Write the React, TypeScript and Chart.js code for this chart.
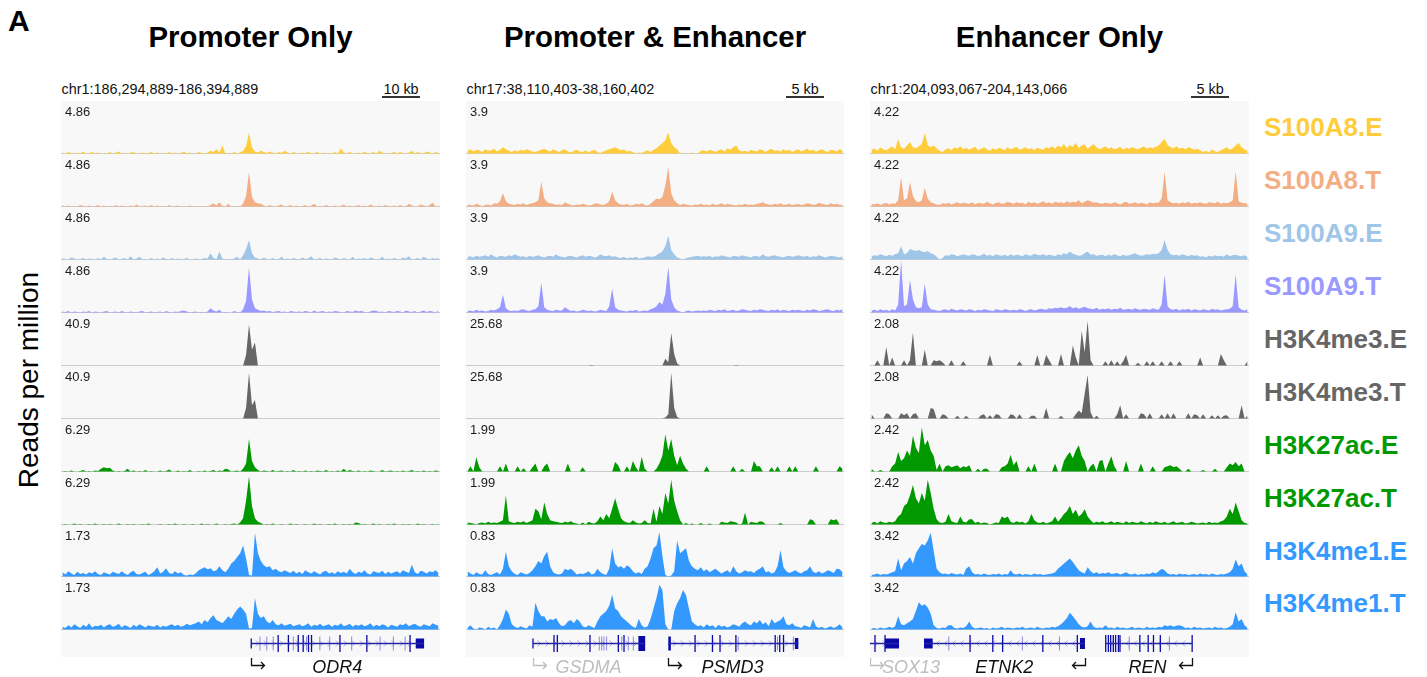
import React, { useEffect, useRef } from 'react';
import { Chart, registerables } from 'chart.js';
Chart.register(...registerables);

const SANS = '"Liberation Sans", Arial, Helvetica, sans-serif';
const BINS = 128;

// ---------- track meta ----------
const trackNames = ['S100A8.E', 'S100A8.T', 'S100A9.E', 'S100A9.T', 'H3K4me3.E', 'H3K4me3.T', 'H3K27ac.E', 'H3K27ac.T', 'H3K4me1.E', 'H3K4me1.T'];
const trackColors = ['#ffcd3c', '#f4ae84', '#9fc5e8', '#9999ff', '#666666', '#666666', '#009900', '#009900', '#3399ff', '#3399ff'];

const panelTitles = ['Promoter Only', 'Promoter & Enhancer', 'Enhancer Only'];
const panelLoci = ['chr1:186,294,889-186,394,889', 'chr17:38,110,403-38,160,402', 'chr1:204,093,067-204,143,066'];
const panelSpanKb = [100, 50, 50];
const scaleBarKb = [10, 5, 5];
const scaleBarLabels = ['10 kb', '5 kb', '5 kb'];

const poRanges = ['4.86', '4.86', '4.86', '4.86', '40.9', '40.9', '6.29', '6.29', '1.73', '1.73'];
const peRanges = ['3.9', '3.9', '3.9', '3.9', '25.68', '25.68', '1.99', '1.99', '0.83', '0.83'];
const eoRanges = ['4.22', '4.22', '4.22', '4.22', '2.08', '2.08', '2.42', '2.42', '3.42', '3.42'];

// ---------- Promoter Only (values in % of the track's data range) ----------
const po_S100A8E = [
  2,0,3,1,0,2,0,4,0,1,3,0,2,0,1,0,
  3,0,2,4,0,1,0,2,3,0,0,2,0,1,3,0,
  2,0,1,0,3,0,2,0,1,4,0,2,0,0,3,1,
  0,2,5,3,8,2,15,0,1,0,3,0,2,5,14,40,
  12,4,2,5,3,1,4,2,0,3,1,5,2,0,3,1,
  0,2,0,4,0,1,3,0,2,0,1,0,3,0,10,2,
  0,3,1,0,2,0,4,0,1,3,0,5,2,0,1,0,
  4,0,3,1,0,2,5,0,3,1,0,4,2,0,3,1];
const po_S100A8T = [
  3,0,2,0,1,0,3,1,0,2,0,1,3,0,2,0,
  1,0,3,0,2,1,0,2,0,4,0,1,2,0,3,0,
  2,0,1,0,3,0,1,2,0,1,0,2,0,1,0,0,
  1,0,3,6,2,8,1,0,5,0,0,1,0,5,20,66,
  18,8,6,5,2,0,3,1,0,2,4,0,1,3,0,2,
  0,1,3,0,2,5,0,1,0,3,1,0,2,0,1,4,
  0,2,0,1,3,0,2,0,4,1,0,2,0,3,1,0,
  2,0,3,1,0,5,2,0,1,4,2,0,3,7,0,2];
const po_S100A9E = [
  3,1,0,4,2,0,1,3,0,2,1,0,3,0,5,1,
  0,2,4,0,1,3,0,6,0,2,5,0,1,0,3,0,
  2,0,4,1,0,3,0,2,0,1,3,0,0,2,0,1,
  3,2,12,3,1,15,2,0,1,0,2,5,0,8,20,37,
  12,4,2,0,4,1,0,3,0,1,5,0,2,0,3,1,
  0,4,1,2,6,0,1,3,0,2,1,0,4,2,0,3,
  1,0,5,0,2,1,3,0,4,2,0,1,5,0,2,0,
  3,1,0,4,2,6,0,1,3,0,5,2,0,3,1,4];
const po_S100A9T = [
  2,1,3,0,2,1,0,2,1,3,0,2,1,0,2,3,
  0,1,2,0,3,1,0,2,1,0,2,3,0,1,2,0,
  1,2,0,3,1,0,2,1,3,4,2,0,1,2,0,1,
  0,2,8,4,2,5,0,1,0,0,3,1,0,6,22,86,
  25,8,5,3,4,2,3,1,2,3,1,2,0,3,2,1,
  2,1,3,2,0,4,1,2,3,0,2,1,3,2,1,0,
  3,2,1,4,2,3,1,0,2,4,3,1,2,0,3,2,
  1,3,2,0,4,2,1,3,0,2,4,1,3,2,0,4];
const po_H3K4me3E = [
  0,0,0,0,0,0,0,0,0,0,0,0,0,0,0,0,
  0,0,0,0,0,0,0,0,0,0,0,0,0,0,0,0,
  0,0,0,0,0,0,0,0,0,0,0,0,0,0,0,0,
  0,0,0,0,0,0,0,0,0,0,0,0,0,0,20,78,
  30,44,0,0,0,0,0,0,0,0,0,0,0,0,0,0,
  0,0,0,0,0,0,0,0,0,0,0,0,0,0,0,0,
  0,0,0,0,0,0,0,0,0,0,0,0,0,0,0,0,
  0,0,0,0,0,0,0,0,0,0,0,0,0,0,0,0];
const po_H3K4me3T = [
  0,0,0,0,0,0,0,0,0,0,0,0,0,0,0,0,
  0,0,0,0,0,0,0,0,0,0,0,0,0,0,0,0,
  0,0,0,0,0,0,0,0,0,0,0,0,0,0,0,0,
  0,0,0,0,0,0,0,0,0,0,0,0,0,0,20,87,
  25,35,0,0,0,0,0,0,0,0,0,0,0,0,0,0,
  0,0,0,0,0,0,0,0,0,0,0,0,0,0,0,0,
  0,0,0,0,0,0,0,0,0,0,0,0,0,0,0,0,
  0,0,0,0,0,0,0,0,0,0,0,0,0,0,0,0];
const po_H3K27acE = [
  0,1,0,2,0,0,1,3,0,1,0,2,1,5,8,6,
  7,2,0,1,0,1,5,0,2,0,1,0,3,0,1,0,
  0,2,0,1,4,0,0,2,0,1,0,3,0,0,1,0,
  2,0,1,3,0,2,1,5,4,0,1,2,0,5,15,62,
  20,8,3,0,2,1,0,3,0,1,2,0,1,0,3,0,
  1,0,2,0,1,0,2,1,0,3,0,1,0,2,0,5,
  0,3,1,0,2,0,1,0,2,1,0,0,3,0,1,2,
  0,1,0,2,0,1,3,0,1,0,2,0,1,0,2,1];
const po_H3K27acT = [
  0,1,0,0,2,0,1,0,0,1,0,2,0,0,1,0,
  1,0,0,2,0,0,1,0,1,0,0,1,0,2,0,0,
  0,1,0,0,1,0,2,0,0,1,0,0,1,0,0,2,
  0,1,0,0,2,0,0,1,0,1,2,0,4,12,45,92,
  35,12,5,3,0,1,0,2,0,0,1,0,0,2,0,1,
  0,0,1,0,0,2,0,1,0,0,1,0,2,0,0,1,
  0,1,0,4,3,0,1,0,0,2,0,1,0,0,1,0,
  2,0,0,1,0,1,0,0,2,0,1,0,0,1,0,1];
const po_H3K4me1E = [
  8,4,10,6,3,9,5,7,4,8,6,10,5,3,8,6,
  4,9,7,5,10,6,3,8,11,5,4,7,9,3,6,10,
  18,6,9,16,7,5,10,6,8,3,2,4,3,6,12,15,
  18,14,16,10,12,20,12,8,15,25,30,38,45,60,35,3,
  2,85,45,30,22,18,20,12,15,10,8,12,9,7,11,6,
  9,5,12,8,6,10,7,4,9,11,6,8,5,10,7,9,
  6,15,8,5,9,7,12,6,4,10,8,7,11,5,9,6,
  8,10,6,12,9,7,23,8,5,11,9,6,10,8,12,7];
const po_H3K4me1T = [
  5,3,8,4,10,6,3,9,5,12,4,7,6,9,4,8,
  10,5,7,11,4,8,6,3,9,5,10,7,4,8,6,5,
  9,4,7,5,8,10,6,9,5,7,11,8,10,12,15,10,
  18,14,22,27,18,15,12,18,25,20,30,38,44,38,30,2,
  3,60,30,22,25,15,12,18,10,8,12,7,9,11,6,8,
  10,6,8,12,5,9,7,11,6,8,10,5,9,7,12,6,
  8,11,5,9,7,10,6,8,12,5,9,6,10,8,4,9,
  7,5,10,8,12,6,9,11,7,5,10,8,6,12,9,7];

// ---------- Promoter & Enhancer ----------
const pe_S100A8E = [
  5,8,4,7,6,3,8,5,6,9,4,7,12,8,5,3,
  6,4,7,5,8,6,4,3,5,7,9,6,4,8,5,3,
  6,8,4,2,5,7,4,3,6,2,5,7,3,1,4,6,
  8,10,12,9,6,8,4,5,3,0,2,1,4,6,3,7,
  10,15,20,25,40,20,12,8,0,1,0,0,2,0,0,5,
  6,4,7,5,3,6,8,4,10,7,12,15,6,4,5,3,
  7,5,4,8,6,3,7,9,5,6,4,8,5,7,3,6,
  8,4,6,9,5,7,4,6,8,5,3,7,6,4,8,6];
const pe_S100A8T = [
  4,3,2,5,3,1,3,4,2,6,5,10,25,10,5,4,
  3,5,4,6,3,5,6,8,12,47,15,8,6,5,3,4,
  3,8,5,3,2,4,3,5,4,2,3,5,6,4,3,5,
  10,28,12,6,4,3,5,2,3,5,4,6,3,2,5,10,
  15,14,18,40,75,25,12,6,3,5,4,3,2,4,3,5,
  3,4,2,5,3,4,6,3,5,4,3,2,4,3,5,3,
  4,3,5,6,8,5,4,3,5,4,6,3,4,5,3,4,
  5,3,4,6,5,3,4,7,5,4,3,6,4,5,3,4];
const pe_S100A9E = [
  5,6,4,7,5,6,8,5,10,6,4,7,6,5,8,6,
  10,7,5,6,4,7,5,6,8,5,4,6,7,5,10,6,
  5,4,6,7,5,4,6,8,5,7,6,4,5,10,7,6,
  8,5,6,4,3,5,2,4,3,5,2,3,4,6,5,5,
  8,12,15,25,45,18,10,4,2,0,3,4,5,6,7,5,
  6,5,7,4,6,5,8,6,5,4,7,6,5,8,6,5,
  4,7,6,5,10,6,5,7,8,6,5,4,6,7,5,6,
  8,6,5,7,4,6,5,8,6,4,5,7,6,5,4,6];
const pe_S100A9T = [
  3,4,2,5,3,4,2,3,5,4,6,10,34,8,4,3,
  4,3,5,6,4,3,5,6,12,57,10,5,4,3,5,4,
  4,10,6,3,4,2,3,5,4,3,4,2,3,5,4,3,
  12,45,10,5,4,3,2,4,3,5,2,3,4,3,6,8,
  12,20,15,35,87,25,10,4,2,0,3,4,2,3,4,3,
  4,3,5,4,3,5,4,6,3,4,5,3,4,6,5,4,
  3,5,4,6,5,4,3,5,4,6,3,5,4,3,5,4,
  5,4,3,5,4,6,5,3,4,5,6,4,3,5,4,6];
const pe_H3K4me3E = [
  0,0,0,0,0,0,0,0,0,0,0,0,0,0,0,0,
  0,0,0,0,0,0,0,0,0,0,0,0,0,0,0,0,
  0,0,0,0,0,0,0,0,0,0,1,0,0,0,0,0,
  0,0,0,0,0,0,0,0,0,0,0,0,0,0,0,0,
  0,0,0,13,6,62,22,4,0,0,0,0,0,0,0,0,
  0,0,0,0,0,0,0,0,0,0,0,1,0,0,0,0,
  0,0,0,0,0,0,0,0,0,0,0,0,0,0,0,0,
  0,0,0,0,0,0,0,0,0,0,0,0,0,0,0,0];
const pe_H3K4me3T = [
  0,0,0,0,0,0,0,0,0,0,0,0,0,0,0,0,
  0,0,0,0,0,0,0,0,0,0,0,0,0,0,0,0,
  0,0,0,0,0,0,0,0,0,0,0,0,0,0,0,0,
  0,0,0,0,0,0,0,0,0,0,0,0,0,0,0,0,
  0,0,0,2,8,87,20,3,0,0,0,0,0,0,0,0,
  0,0,0,0,0,0,0,0,0,0,0,0,0,0,0,0,
  0,0,0,0,0,0,0,0,0,0,0,0,0,0,0,0,
  0,0,0,0,0,0,0,0,0,0,0,0,0,0,0,0];
const pe_H3K27acE = [
  0,10,0,27,8,0,0,0,0,0,0,10,0,15,0,0,
  0,10,0,6,0,0,8,15,0,0,10,15,0,0,0,0,
  0,0,15,0,0,0,0,8,0,0,0,0,0,0,0,0,
  0,0,18,12,0,0,10,0,20,8,0,28,5,0,0,0,
  5,15,30,71,40,62,30,12,30,15,5,0,0,0,0,0,
  0,10,0,0,0,0,0,0,0,0,10,0,0,5,0,0,
  0,20,10,10,0,0,0,8,0,10,0,0,0,10,0,10,
  0,0,0,0,0,0,10,0,0,0,0,0,0,0,10,5];
const pe_H3K27acT = [
  4,3,2,0,3,4,2,5,3,4,3,5,8,55,6,4,
  3,5,4,6,3,5,8,30,25,10,42,20,8,6,5,4,
  3,5,4,6,3,2,0,4,0,5,3,2,6,15,8,20,
  12,30,50,30,12,6,4,3,8,4,2,3,8,3,2,30,
  5,35,20,60,40,85,45,25,8,0,3,0,2,0,0,3,
  0,0,2,0,0,0,5,4,3,6,5,4,0,2,23,0,
  5,4,3,6,5,0,0,0,0,0,3,0,0,0,0,0,
  0,0,0,0,10,8,0,0,0,0,0,10,8,10,0,0];
const pe_H3K4me1E = [
  10,6,3,8,5,4,12,5,3,6,8,4,15,48,20,10,
  5,3,8,6,4,7,12,20,30,25,40,48,20,8,5,4,
  6,15,12,15,10,4,6,5,7,10,4,6,15,8,5,3,
  15,55,25,18,20,15,22,18,10,6,8,5,15,20,35,55,
  60,86,40,3,0,2,10,70,45,50,55,30,20,15,12,18,
  10,14,8,12,15,10,6,9,12,7,20,10,6,8,12,9,
  10,7,12,15,20,8,10,6,8,20,51,18,10,7,9,12,
  8,6,10,12,20,9,7,10,6,8,12,10,7,15,14,8];
const pe_H3K4me1T = [
  3,8,2,0,4,3,0,5,2,4,0,8,20,38,30,10,
  5,3,6,4,2,8,5,51,35,25,25,15,20,18,22,12,
  6,8,15,18,12,20,15,6,4,8,5,3,15,25,30,35,
  45,66,40,35,25,20,15,10,5,3,20,8,4,6,20,40,
  60,85,75,10,0,0,35,50,60,75,65,40,15,10,6,8,
  4,10,6,8,3,9,5,7,4,6,10,8,5,12,15,10,
  8,15,12,18,10,14,6,20,12,15,18,25,10,8,12,6,
  5,3,8,6,4,20,6,3,5,2,4,6,3,5,10,4];

// ---------- Enhancer Only ----------
const eo_S100A8E = [
  6,10,5,12,8,6,10,14,8,27,12,9,15,22,12,10,
  14,18,39,16,12,15,10,5,3,8,10,6,12,9,14,8,
  11,7,10,13,6,9,12,8,5,10,7,11,9,6,12,8,
  10,13,7,9,12,8,10,6,11,9,7,12,10,14,9,15,
  12,18,10,16,13,20,11,15,17,9,14,18,12,8,11,14,
  9,12,8,10,13,7,11,9,12,10,8,11,14,9,12,10,
  13,15,22,28,16,12,10,14,9,11,8,12,10,7,9,6,
  3,5,2,8,4,3,6,9,12,7,10,15,20,12,8,5];
const eo_S100A8T = [
  5,4,6,3,5,7,4,6,5,12,56,12,15,46,20,10,
  8,12,35,15,8,6,4,3,6,5,7,4,6,8,5,7,
  6,5,8,4,7,6,5,9,6,4,7,8,5,6,9,7,
  5,8,6,7,4,9,6,8,5,7,10,6,8,5,9,7,
  8,6,10,7,9,8,12,6,9,12,10,7,8,6,5,7,
  6,5,8,6,4,7,9,5,6,8,5,7,6,4,8,6,
  7,7,15,66,12,8,6,7,5,8,6,9,5,7,6,8,
  6,5,8,7,6,9,5,7,6,8,12,67,10,7,6,5];
const eo_S100A9E = [
  6,8,7,10,8,6,9,7,10,12,25,10,12,20,18,16,
  18,15,14,16,12,10,5,0,3,8,7,10,9,6,8,10,
  8,7,10,9,6,8,11,7,9,6,10,8,7,9,6,10,
  7,9,8,6,10,8,7,11,9,8,10,7,9,8,6,10,
  8,12,10,15,11,9,7,8,12,15,9,10,7,8,9,6,
  9,7,10,8,6,9,7,8,10,12,9,7,8,10,9,11,
  10,12,18,37,18,10,8,9,7,10,8,6,9,7,8,5,
  6,4,7,5,8,6,7,5,10,6,8,9,7,6,8,5];
const eo_S100A9T = [
  4,5,3,6,4,5,3,6,4,15,100,12,15,62,25,10,
  8,10,55,15,6,5,4,3,5,6,4,7,5,4,6,5,
  4,6,5,3,5,4,6,5,4,3,6,5,4,6,5,4,
  5,4,6,5,3,5,6,4,5,7,6,5,8,7,9,8,
  10,8,9,12,8,10,7,9,11,8,7,6,9,5,7,6,
  8,5,7,6,9,5,6,7,5,8,6,5,7,6,5,8,
  6,5,15,72,12,6,5,7,4,6,5,7,4,6,5,4,
  6,5,4,7,5,6,4,5,6,7,12,73,10,5,4,6];
const eo_H3K4me3E = [
  0,0,10,0,0,35,0,15,0,0,0,10,0,10,63,0,
  0,0,30,0,0,10,8,10,6,0,0,10,0,0,0,8,
  0,0,0,0,0,0,0,0,20,0,0,0,0,0,0,0,
  0,0,8,0,0,0,0,0,20,0,0,20,10,0,0,0,
  22,0,0,0,38,15,0,66,25,85,10,0,0,0,0,8,
  0,10,0,8,0,8,20,0,0,0,5,0,0,8,0,8,
  0,0,8,0,0,8,0,0,8,0,0,0,0,0,0,15,
  0,0,0,0,0,0,22,10,0,0,0,0,0,0,0,8];
const eo_H3K4me3T = [
  8,0,0,0,0,10,8,0,0,0,10,6,10,0,8,10,
  0,0,0,0,20,18,0,0,8,6,0,0,0,5,0,0,
  5,0,0,0,0,6,8,0,6,0,8,7,0,0,0,8,
  6,0,8,0,0,0,5,5,0,0,0,20,0,0,0,0,
  5,0,0,0,0,8,15,10,47,83,12,0,5,0,0,0,
  0,0,0,8,25,0,8,0,0,0,0,10,8,0,10,0,
  0,0,8,0,10,0,10,0,0,0,0,10,0,8,6,0,
  8,0,0,6,0,6,0,5,6,0,0,0,0,25,0,5];
const eo_H3K27acE = [
  5,0,0,3,0,0,0,10,15,37,20,25,40,30,68,45,
  35,84,50,60,40,30,3,15,0,10,12,8,10,12,6,10,
  8,12,0,0,5,0,5,5,0,0,0,0,8,10,15,32,
  12,20,0,0,0,10,0,15,0,0,0,0,0,0,15,0,
  0,20,30,37,25,40,50,30,20,0,10,15,0,20,22,0,
  15,29,10,0,0,0,20,0,0,0,0,15,0,0,0,10,
  0,0,0,8,10,12,8,10,5,0,0,5,0,0,0,0,
  3,0,0,0,5,0,0,0,8,15,12,18,10,15,0,0];
const eo_H3K27acT = [
  3,5,2,6,4,3,5,4,6,15,20,35,40,55,75,50,
  40,60,45,85,60,30,10,4,3,5,20,6,4,3,15,5,
  4,10,10,3,5,2,4,3,0,2,4,3,15,12,15,5,
  3,6,4,5,2,6,20,8,4,3,5,2,4,6,15,5,
  12,20,25,35,20,28,15,20,29,15,8,3,5,4,6,3,
  4,6,3,5,4,2,6,3,5,4,3,6,4,2,5,3,
  6,4,3,5,2,4,6,3,4,5,2,3,5,4,2,3,
  4,2,5,3,4,3,6,8,15,30,20,42,25,8,3,2];
const eo_H3K4me1E = [
  3,4,6,3,5,4,6,8,10,35,12,25,30,38,25,45,
  55,63,60,70,85,50,15,8,5,6,4,7,5,4,6,3,
  15,20,8,4,5,3,6,4,3,5,4,6,3,5,4,12,
  5,4,6,3,5,4,3,6,4,5,3,4,5,6,8,15,
  20,25,30,35,28,20,12,8,6,18,10,6,8,5,7,6,
  8,5,6,7,4,6,8,5,4,6,3,5,4,6,5,8,
  6,10,15,12,6,4,5,3,6,4,5,3,4,5,3,6,
  4,5,3,6,4,3,5,4,6,8,15,33,20,25,10,4];
const eo_H3K4me1T = [
  2,3,1,4,2,3,5,3,6,25,10,8,12,15,20,35,
  52,45,48,42,30,8,3,2,4,3,8,8,3,2,4,3,
  6,15,5,2,3,4,2,3,1,4,2,3,5,2,4,3,
  2,4,3,5,2,3,4,2,5,3,2,4,3,5,4,6,
  10,15,22,32,25,18,10,5,4,6,15,5,3,4,3,8,
  3,4,2,5,3,4,2,3,5,2,4,3,2,5,3,4,
  3,5,4,8,6,8,5,7,8,6,3,4,2,5,3,4,
  2,3,4,2,5,3,4,2,3,5,10,33,15,20,8,3];

// ---------- gene models (kb from window start) ----------
const odr4Major = [57.3, 60.0, 62.6, 63.9, 65.3, 66.1, 73.6, 80.7, 92.1];
const odr4Minor = [52.5, 54.3, 56.0, 61.3, 64.8, 68.3, 70.9, 76.7, 84.2, 87.7, 90.8];
const odr4Blocks = [[93.6, 95.8, 10]];
const gsdmaMajor = [11.64, 12.08, 16.4, 20.15, 20.9];
const gsdmaMinor = [17.63, 17.95, 18.25, 18.6, 20.6, 21.47, 22.13];
const gsdmaBlocks = [[22.8, 23.7, 15]];
const psmd3Major = [30.3, 32.6, 33.6, 35.7, 40.9, 41.5, 42.0];
const psmd3Minor = [36.0, 41.2, 43.3];
const psmd3Blocks = [[26.76, 27.1, 14], [43.5, 43.96, 11]];
const sox13Major = [0.66, 1.98];
const sox13Blocks = [[1.98, 3.83, 10]];
const etnk2Major = [13.2, 16.2, 17.5, 22.8, 27.35];
const etnk2Minor = [10.4, 20.1, 25.0];
const etnk2Blocks = [[7.12, 8.27, 10], [27.7, 28.36, 11]];
const renMajor = [31.1, 31.45, 31.75, 32.1, 32.4, 32.77, 32.98, 35.6, 36.7, 37.4, 38.3, 42.5];
const renMinor = [34.2, 39.5];

type Gene = { name: string; start: number; end: number; strand: number; muted: boolean; labelAt: number; major: number[]; minor: number[]; edges: number[]; blocks: number[][] };

const poGenes: Gene[] = [
  { name: 'ODR4', start: 50.2, end: 95.8, strand: 1, muted: false, labelAt: 72.9, major: odr4Major, minor: odr4Minor, edges: [50.2], blocks: odr4Blocks },
];
const peGenes: Gene[] = [
  { name: 'GSDMA', start: 8.86, end: 23.7, strand: 1, muted: true, labelAt: 16.2, major: gsdmaMajor, minor: gsdmaMinor, edges: [8.86], blocks: gsdmaBlocks },
  { name: 'PSMD3', start: 26.76, end: 43.96, strand: 1, muted: false, labelAt: 35.25, major: psmd3Major, minor: psmd3Minor, edges: [], blocks: psmd3Blocks },
];
const eoGenes: Gene[] = [
  { name: 'SOX13', start: 0, end: 3.83, strand: 1, muted: true, labelAt: 5.4, major: sox13Major, minor: [], edges: [], blocks: sox13Blocks },
  { name: 'ETNK2', start: 7.12, end: 28.36, strand: -1, muted: false, labelAt: 17.7, major: etnk2Major, minor: etnk2Minor, edges: [], blocks: etnk2Blocks },
  { name: 'REN', start: 31.1, end: 42.5, strand: -1, muted: false, labelAt: 36.6, major: renMajor, minor: renMinor, edges: [], blocks: [] },
];

const poTracks = [po_S100A8E, po_S100A8T, po_S100A9E, po_S100A9T, po_H3K4me3E, po_H3K4me3T, po_H3K27acE, po_H3K27acT, po_H3K4me1E, po_H3K4me1T];
const peTracks = [pe_S100A8E, pe_S100A8T, pe_S100A9E, pe_S100A9T, pe_H3K4me3E, pe_H3K4me3T, pe_H3K27acE, pe_H3K27acT, pe_H3K4me1E, pe_H3K4me1T];
const eoTracks = [eo_S100A8E, eo_S100A8T, eo_S100A9E, eo_S100A9T, eo_H3K4me3E, eo_H3K4me3T, eo_H3K27acE, eo_H3K27acT, eo_H3K4me1E, eo_H3K4me1T];

const columns = [
  { left: 61, width: 379, tracks: poTracks, ranges: poRanges, genes: poGenes },
  { left: 466, width: 378, tracks: peTracks, ranges: peRanges, genes: peGenes },
  { left: 870, width: 379, tracks: eoTracks, ranges: eoRanges, genes: eoGenes },
];

const TRACK_TOPS = Array.from({ length: 11 }, (_, k) => Math.round(101.3 + 52.9 * k));
const PANEL_BG = '#f8f8f8';

function TrackChart({ left, top, width, height, values, color, range }: any) {
  const ref = useRef<HTMLCanvasElement>(null);
  useEffect(() => {
    const decor = {
      id: 'trackDecor',
      beforeDraw(chart: any) {
        const { ctx, chartArea: a } = chart;
        ctx.save();
        ctx.fillStyle = PANEL_BG;
        ctx.fillRect(a.left, a.top, a.right - a.left, a.bottom - a.top);
        ctx.strokeStyle = '#cccccc';
        ctx.lineWidth = 1;
        ctx.beginPath();
        ctx.moveTo(a.left, a.bottom - 0.5);
        ctx.lineTo(a.right, a.bottom - 0.5);
        ctx.stroke();
        ctx.restore();
      },
      afterDraw(chart: any) {
        const { ctx, chartArea: a } = chart;
        ctx.save();
        ctx.fillStyle = '#1a1a1a';
        ctx.font = `13px ${SANS}`;
        ctx.textBaseline = 'alphabetic';
        ctx.fillText(range, a.left + 4, a.top + 14.5);
        ctx.restore();
      },
    };
    const chart = new Chart(ref.current as HTMLCanvasElement, {
      type: 'line',
      data: {
        datasets: [{
          data: values.map((v: number, i: number) => ({ x: i + 0.5, y: v })),
          borderColor: 'rgba(0,0,0,0)',
          backgroundColor: color,
          borderWidth: 0,
          pointRadius: 0,
          fill: 'origin',
          tension: 0,
        }],
      },
      options: {
        animation: false,
        responsive: false,
        maintainAspectRatio: false,
        events: [],
        layout: { padding: 0, autoPadding: false },
        plugins: { legend: { display: false }, tooltip: { enabled: false } },
        scales: {
          x: { type: 'linear', min: 0, max: BINS, display: false },
          y: { min: -1, max: 100, display: false },
        },
      },
      plugins: [decor],
    } as any);
    return () => chart.destroy();
  }, []);
  return <canvas ref={ref} width={width} height={height} style={{ position: 'absolute', left, top, width, height }} />;
}

const GENE_LINE = '#2424a8';
const GENE_DARK = '#0a0aa8';
const GENE_LIGHT = '#8a8ad8';

function GeneChart({ left, top, width, genes, spanKb }: any) {
  const ref = useRef<HTMLCanvasElement>(null);
  const height = 47;
  useEffect(() => {
    const datasets: any[] = [];
    genes.forEach((g: Gene) => {
      datasets.push({ data: [{ x: g.start, y: 0 }, { x: g.end, y: 0 }], showLine: true, borderColor: GENE_LINE, borderWidth: 1.5, pointRadius: 0 });
      g.blocks.forEach((b) => {
        datasets.push({ data: [{ x: b[0], y: 0 }, { x: b[1], y: 0 }], showLine: true, borderColor: GENE_DARK, borderWidth: b[2], borderCapStyle: 'butt', pointRadius: 0 });
      });
      datasets.push({ data: g.minor.map((x) => ({ x, y: 0 })), pointStyle: 'line', pointRotation: 90, pointRadius: 7, pointBorderColor: GENE_LIGHT, pointBorderWidth: 1 });
      datasets.push({ data: g.major.map((x) => ({ x, y: 0 })), pointStyle: 'line', pointRotation: 90, pointRadius: 8.5, pointBorderColor: GENE_DARK, pointBorderWidth: 1.3 });
      datasets.push({ data: g.edges.map((x) => ({ x, y: 0 })), pointStyle: 'line', pointRotation: 90, pointRadius: 5, pointBorderColor: GENE_DARK, pointBorderWidth: 1.3 });
    });
    const decor = {
      id: 'geneDecor',
      beforeDatasetsDraw(chart: any) {
        const { ctx, chartArea: a, scales } = chart;
        ctx.save();
        ctx.fillStyle = PANEL_BG;
        ctx.fillRect(a.left, a.top, a.right - a.left, a.bottom - a.top);
        const yc = scales.y.getPixelForValue(0);
        ctx.strokeStyle = 'rgba(110,110,225,0.55)';
        ctx.lineWidth = 1;
        genes.forEach((g: Gene) => {
          const x0 = scales.x.getPixelForValue(g.start);
          const x1 = scales.x.getPixelForValue(g.end);
          for (let x = x0 + 6; x < x1 - 4; x += 8) {
            ctx.beginPath();
            ctx.moveTo(x - 1.5 * g.strand, yc - 3);
            ctx.lineTo(x + 1.5 * g.strand, yc);
            ctx.lineTo(x - 1.5 * g.strand, yc + 3);
            ctx.stroke();
          }
        });
        ctx.restore();
      },
      afterDraw(chart: any) {
        const { ctx, chartArea: a, scales } = chart;
        ctx.save();
        genes.forEach((g: Gene) => {
          const color = g.muted ? '#bdbdbd' : '#111111';
          ctx.fillStyle = color;
          ctx.strokeStyle = color;
          ctx.font = `italic 18px ${SANS}`;
          ctx.textAlign = 'center';
          ctx.textBaseline = 'alphabetic';
          ctx.fillText(g.name, scales.x.getPixelForValue(g.labelAt), a.bottom + 16);
          const ax = Math.round(scales.x.getPixelForValue(g.strand > 0 ? g.start : g.end)) + 0.5;
          const yA = a.bottom + 8.5;
          const d = g.strand > 0 ? 1 : -1;
          ctx.lineWidth = 1.3;
          ctx.beginPath();
          ctx.moveTo(ax, a.bottom + 1);
          ctx.lineTo(ax, yA);
          ctx.lineTo(ax + 13 * d, yA);
          ctx.moveTo(ax + 9.5 * d, yA - 3.5);
          ctx.lineTo(ax + 13 * d, yA);
          ctx.lineTo(ax + 9.5 * d, yA + 3.5);
          ctx.stroke();
        });
        ctx.restore();
      },
    };
    const chart = new Chart(ref.current as HTMLCanvasElement, {
      type: 'scatter',
      data: { datasets },
      options: {
        animation: false,
        responsive: false,
        maintainAspectRatio: false,
        events: [],
        layout: { padding: { left: 0, right: 0, top: 0, bottom: 20 }, autoPadding: false },
        plugins: { legend: { display: false }, tooltip: { enabled: false } },
        scales: {
          x: { type: 'linear', min: 0, max: spanKb, display: false },
          y: { min: -1, max: 1, display: false },
        },
      },
      plugins: [decor],
    } as any);
    return () => chart.destroy();
  }, []);
  return <canvas ref={ref} width={width} height={height} style={{ position: 'absolute', left, top, width, height }} />;
}

function Column({ index }: { index: number }) {
  const col = columns[index];
  const barW = (scaleBarKb[index] / panelSpanKb[index]) * col.width;
  const barRight = col.left + col.width - 20;
  return (
    <>
      <div style={{ position: 'absolute', left: col.left - 40, width: col.width + 80, top: 21, textAlign: 'center', fontSize: 29.4, fontWeight: 'bold', lineHeight: '32px', color: '#000', whiteSpace: 'nowrap' }}>
        {panelTitles[index]}
      </div>
      <div style={{ position: 'absolute', left: col.left + 0.5, top: 80.5, fontSize: 14.4, lineHeight: '16px', color: '#111', whiteSpace: 'nowrap' }}>
        {panelLoci[index]}
      </div>
      <div style={{ position: 'absolute', left: barRight - barW - 20, width: barW + 40, top: 80.5, textAlign: 'center', fontSize: 14.4, lineHeight: '16px', color: '#111' }}>
        {scaleBarLabels[index]}
      </div>
      <div style={{ position: 'absolute', left: barRight - barW, width: barW, top: 96, height: 2, background: '#333' }} />
      {col.tracks.map((vals, k) => (
        <TrackChart key={k} left={col.left} top={TRACK_TOPS[k]} width={col.width} height={TRACK_TOPS[k + 1] - TRACK_TOPS[k]} values={vals} color={trackColors[k]} range={col.ranges[k]} />
      ))}
      <GeneChart left={col.left} top={TRACK_TOPS[10]} width={col.width} genes={col.genes} spanKb={panelSpanKb[index]} />
    </>
  );
}

export default function App() {
  return (
    <div style={{ position: 'absolute', left: 0, top: 0, width: 1427, height: 677, background: '#fff', fontFamily: SANS, overflow: 'hidden' }}>
      <div style={{ position: 'absolute', left: 8, top: 5, fontSize: 30, fontWeight: 'bold', lineHeight: '32px', color: '#000' }}>A</div>
      <div style={{ position: 'absolute', left: 29 - 160, top: 380 - 16, width: 320, textAlign: 'center', fontSize: 28, lineHeight: '32px', color: '#000', transform: 'rotate(-90deg)', whiteSpace: 'nowrap' }}>
        Reads per million
      </div>
      {columns.map((_, i) => <Column key={i} index={i} />)}
      {trackNames.map((name, k) => (
        <div key={name} style={{ position: 'absolute', left: 1264, top: TRACK_TOPS[k], height: TRACK_TOPS[k + 1] - TRACK_TOPS[k], lineHeight: `${TRACK_TOPS[k + 1] - TRACK_TOPS[k]}px`, fontSize: 26, fontWeight: 'bold', color: trackColors[k], whiteSpace: 'nowrap' }}>
          {name}
        </div>
      ))}
    </div>
  );
}
